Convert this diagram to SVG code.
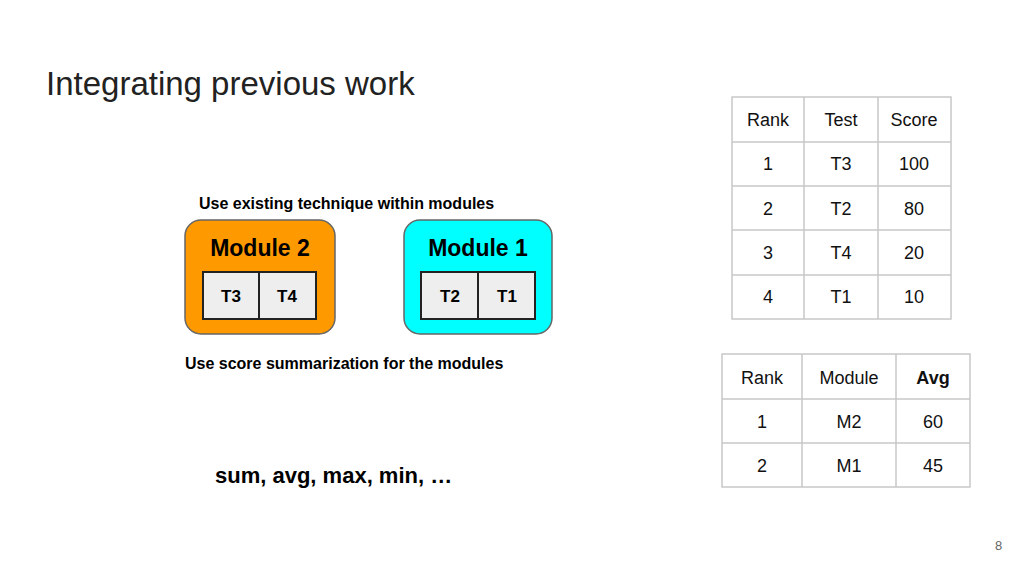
<svg xmlns="http://www.w3.org/2000/svg" width="1024" height="576" viewBox="0 0 1024 576">
<style>
text{font-family:"Liberation Sans",Arial,sans-serif}
.t{font-size:18px;fill:#111;text-anchor:middle}
.g{stroke:#c8c8c8;stroke-width:1.5;fill:none}
.m{font-size:23px;font-weight:bold;text-anchor:middle}
.c{font-size:17px;font-weight:bold;text-anchor:middle}
.cell{fill:#eeeeee;stroke:#222;stroke-width:2}
.b{font-size:16px;font-weight:bold}
</style>
<rect width="1024" height="576" fill="#fff"/>
<text x="46" y="95" font-size="33" fill="#222">Integrating previous work</text>
<text x="199" y="209" class="b">Use existing technique within modules</text>
<text x="185" y="369" class="b">Use score summarization for the modules</text>
<text x="215" y="483" font-size="22" font-weight="bold">sum, avg, max, min, …</text>
<text x="995" y="550" font-size="13" fill="#666">8</text>
<g id="module2">
<rect x="185" y="220" width="150" height="114" rx="16" fill="#ff9900" stroke="#666" stroke-width="1.5"/>
<text x="260" y="256" class="m">Module 2</text>
<rect x="203" y="272" width="56" height="47" class="cell"/>
<rect x="259" y="272" width="57" height="47" class="cell"/>
<text x="231" y="302" class="c">T3</text>
<text x="287" y="302" class="c">T4</text>
</g>
<g id="module1">
<rect x="404" y="220" width="148" height="114" rx="16" fill="#00ffff" stroke="#666" stroke-width="1.5"/>
<text x="478" y="256" class="m">Module 1</text>
<rect x="421" y="272" width="57" height="47" class="cell"/>
<rect x="478" y="272" width="57" height="47" class="cell"/>
<text x="450" y="302" class="c">T2</text>
<text x="507" y="302" class="c">T1</text>
</g>
<g id="table1">
<rect x="732" y="97" width="219" height="222" class="g"/>
<path class="g" d="M804 97V319M878 97V319M732 142H951M732 186H951M732 230H951M732 275H951"/>
<text x="768" y="126" class="t">Rank</text><text x="841" y="126" class="t">Test</text><text x="914" y="126" class="t">Score</text>
<text x="768" y="170" class="t">1</text><text x="841" y="170" class="t">T3</text><text x="914" y="170" class="t">100</text>
<text x="768" y="215" class="t">2</text><text x="841" y="215" class="t">T2</text><text x="914" y="215" class="t">80</text>
<text x="768" y="259" class="t">3</text><text x="841" y="259" class="t">T4</text><text x="914" y="259" class="t">20</text>
<text x="768" y="303" class="t">4</text><text x="841" y="303" class="t">T1</text><text x="914" y="303" class="t">10</text>
</g>
<g id="table2">
<rect x="722" y="354" width="248" height="133" class="g"/>
<path class="g" d="M802 354V487M896 354V487M722 399H970M722 443H970"/>
<text x="762" y="384" class="t">Rank</text><text x="849" y="384" class="t">Module</text><text x="933" y="384" class="t" font-weight="bold">Avg</text>
<text x="762" y="428" class="t">1</text><text x="849" y="428" class="t">M2</text><text x="933" y="428" class="t">60</text>
<text x="762" y="472" class="t">2</text><text x="849" y="472" class="t">M1</text><text x="933" y="472" class="t">45</text>
</g>
<g id="connectors"/>
</svg>
